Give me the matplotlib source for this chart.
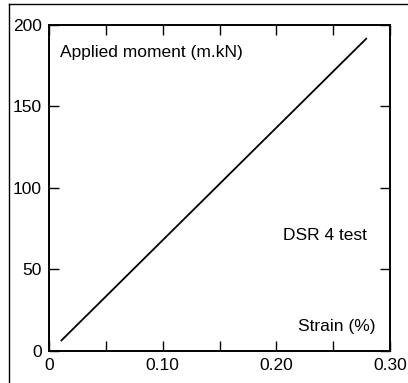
import matplotlib
matplotlib.use("Agg")
import matplotlib.pyplot as plt
from matplotlib.lines import Line2D

plt.rcParams['font.family'] = ['Liberation Sans', 'DejaVu Sans']

# data
strain = [0.011, 0.279]
moment = [6.5, 191.5]

xticks_major = [0, 0.10, 0.20, 0.30]
xtick_labels = ["0", "0.10", "0.20", "0.30"]
xticks_minor = [0.05, 0.15, 0.25]
yticks = [0, 50, 100, 150, 200]

fig = plt.figure(figsize=(4.08, 3.83), dpi=100)
ax = fig.add_axes([0.120, 0.0836, 0.836, 0.8514])

ax.plot(strain, moment, color="black", lw=1.3)

ax.set_xlim(0, 0.30)
ax.set_ylim(0, 200)
ax.set_xticks(xticks_major)
ax.set_xticklabels(xtick_labels)
ax.set_xticks(xticks_minor, minor=True)
ax.set_yticks(yticks)
ax.tick_params(which="both", direction="in", top=True, right=True,
               labelsize=12.5, width=1.0, color="black", pad=5)
ax.tick_params(which="both", length=7)
for s in ax.spines.values():
    s.set_linewidth(1.4)

ax.text(0.010, 183, "Applied moment (m.kN)", fontsize=12.5, va="center")
ax.text(0.206, 71, "DSR 4 test", fontsize=12.5, va="center")
ax.text(0.219, 15, "Strain (%)", fontsize=12.5, va="center")

# outer frame from the scanned page
fig.add_artist(Line2D([9 / 408, 9 / 408], [0, 1 - 4 / 383], transform=fig.transFigure,
                      color="black", lw=1.0))
fig.add_artist(Line2D([9 / 408, 1], [1 - 4 / 383, 1 - 4 / 383], transform=fig.transFigure,
                      color="black", lw=1.0))

fig.savefig("out.png", dpi=100)
